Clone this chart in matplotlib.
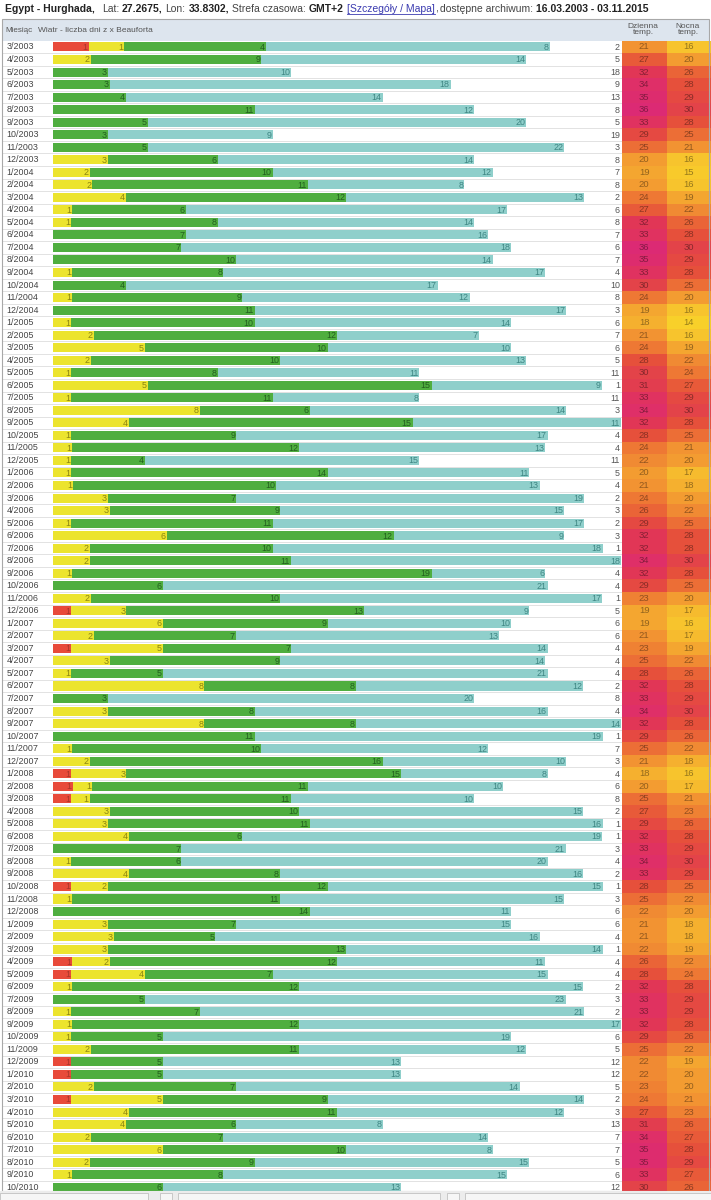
import numpy as np
import matplotlib
matplotlib.use('agg')
import matplotlib.pyplot as plt
from matplotlib.colors import LinearSegmentedColormap, to_rgb
from matplotlib.patches import Rectangle
from matplotlib.lines import Line2D

plt.rcParams['font.family'] = ['Liberation Sans', 'DejaVu Sans']

# months 3/2003 .. 10/2010
months = [f"{m}/{y}" for y in range(2003, 2011) for m in range(1, 13)][2:94]

# number of days per Beaufort class (red, yellow, green, teal, rest)
red = [1,0,0,0,0,0,0,0,0,0, 0,0,0,0,0,0,0,0,0,0,0,0,
       0,0,0,0,0,0,0,0,0,0,0,0, 0,0,0,0,0,0,0,0,0,0,0,1,
       0,0,1,0,0,0,0,0,0,0,0,0, 1,1,1,0,0,0,0,0,0,1,0,0,
       0,0,0,1,1,0,0,0,0,0,0,1, 1,0,1,0,0,0,0,0,0,0]
yellow = [1,2,0,0,0,0,0,0,0,3, 2,2,4,1,1,0,0,0,1,0,1,0,
          1,2,5,2,1,5,1,8,4,1,1,1, 1,1,3,3,1,6,2,2,1,0,2,3,
          6,2,5,3,1,8,0,3,8,0,1,2, 3,1,1,3,3,4,0,1,4,2,1,0,
          3,3,3,2,4,1,0,1,1,1,2,0, 0,2,5,4,4,2,6,2,1,0]
green = [4,9,3,3,4,11,5,3,5,6, 10,11,12,6,8,7,7,10,8,4,9,11,
         10,12,10,10,8,15,11,6,15,9,12,4, 14,10,7,9,11,12,10,11,19,6,10,13,
         9,7,7,9,5,8,3,8,8,11,10,16, 15,11,11,10,11,6,7,6,8,12,11,14,
         7,5,13,12,7,12,5,7,12,5,11,5, 5,7,9,11,6,7,10,9,8,6]
teal = [8,14,10,18,14,12,20,9,22,14, 12,8,13,17,14,16,18,14,17,17,12,17,
        14,7,10,13,11,9,8,14,11,17,13,15, 11,13,19,15,17,9,18,18,6,21,17,9,
        10,13,14,14,21,12,20,16,14,19,12,10, 8,10,10,15,16,19,21,20,16,15,15,11,
        15,16,14,11,15,15,23,21,17,19,12,13, 13,14,14,12,8,14,8,15,15,13]
rest = [2,5,18,9,13,8,5,19,3,8, 7,8,2,6,8,7,6,7,4,10,8,3,
        6,7,6,5,11,1,11,3,0,4,4,11, 5,4,2,3,2,3,1,0,4,4,1,5,
        6,6,4,4,4,2,8,4,0,1,7,3, 4,6,8,2,1,1,3,4,2,1,3,6,
        6,4,1,4,4,2,3,2,0,6,5,12, 12,5,2,3,13,7,7,5,6,12]

# mean day / night temperature
day_temp = [21,27,32,34,35,36,33,29,25,20,
            19,20,24,27,32,33,36,35,33,30,24,19,
            18,21,24,28,30,31,33,34,32,28,24,22,
            20,21,24,26,29,32,32,34,32,29,23,19,
            19,21,23,25,28,32,33,34,32,29,25,21,
            18,20,25,27,29,32,33,34,33,28,25,22,
            21,21,22,26,28,32,33,33,32,29,25,22,
            22,23,24,27,31,34,35,35,33,30]
night_temp = [16,20,26,28,29,30,28,25,21,16,
              15,16,19,22,26,28,30,29,28,25,20,16,
              14,16,19,22,24,27,29,30,28,25,21,20,
              17,18,20,22,25,28,28,30,28,25,20,17,
              16,17,19,22,26,28,29,30,28,26,22,18,
              16,17,21,23,26,28,29,30,29,25,22,20,
              18,18,19,22,24,28,29,29,28,26,22,19,
              20,20,21,23,26,27,28,29,27,26]

seg_colors = ['#e84a3a', '#ece42e', '#4fae3f', '#8fcfcb', '#ffffff']
lab_colors = ['#a8362a', '#8a8410', '#225f1e', '#3e8683', '#555555']

temp_cmap = LinearSegmentedColormap.from_list('temp', [
    (0.0, '#f8d02a'), (2/22, '#f7c42d'), (6/22, '#f39c31'), (10/22, '#ee7834'),
    (14/22, '#e6503b'), (18/22, '#e13656'), (20/22, '#df2f68'), (1.0, '#dc2a74')])

W, H = 711, 1200
fig = plt.figure(figsize=(W / 100, H / 100), dpi=100)
fig.patch.set_facecolor('white')


def px_ax(x0, y0, x1, y1):
    a = fig.add_axes([x0 / W, 1 - y1 / H, (x1 - x0) / W, (y1 - y0) / H])
    a.set_axis_off()
    return a


row0 = 40.7
pitch = 12.53
n = len(months)
ybot = (H - row0) / pitch - 0.5
rows = np.arange(n)

# row separators
ax_bg = px_ax(2, row0, 709, H)
ax_bg.set_xlim(0, 1)
ax_bg.set_ylim(ybot, -0.5)
ax_bg.hlines(rows + 0.5, 0, 1, color='#e2e2e2', lw=0.7)

# month labels
ax_lab = px_ax(2, row0, 53, H)
ax_lab.set_xlim(0, 1)
ax_lab.set_ylim(ybot, -0.5)
for i, m in enumerate(months):
    ax_lab.text(0.09, i, m, fontsize=6.4, color='#444444', va='center', ha='left')

# wind bars
ax = px_ax(53, row0, 621, H)
ax.set_xlim(0, 1)
ax.set_ylim(ybot, -0.5)
data = np.array([red, yellow, green, teal, rest], dtype=float)
totals = data.sum(axis=0)
left = np.zeros(n)
for k in range(5):
    frac = data[k] / totals
    ax.barh(rows, frac, left=left, height=0.72, color=seg_colors[k], lw=0)
    ends = left + frac
    for i in range(n):
        if data[k, i] > 0:
            ax.annotate(str(int(data[k, i])), (ends[i], i), xytext=(-0.8, -0.3),
                        textcoords='offset points', ha='right', va='center',
                        fontsize=6.4, color=lab_colors[k])
    left = ends

# temperature cells
ax_t = px_ax(622, row0, 711, H)
ax_t.set_xlim(0, 2)
ax_t.set_ylim(ybot, -0.5)
temps = np.array([day_temp, night_temp]).T
ax_t.pcolormesh(np.arange(3), np.arange(n + 1) - 0.5, temps, cmap=temp_cmap,
                vmin=14, vmax=36, edgecolors='none')
for i in range(n):
    for j in range(2):
        c = np.array(to_rgb(temp_cmap((temps[i, j] - 14) / 22))) * 0.6
        ax_t.text(j + 0.5, i, str(temps[i, j]), fontsize=6.8, color=c,
                  ha='center', va='center')

# header row
fig.patches.append(Rectangle((2 / W, 1 - row0 / H), 707 / W, (row0 - 19) / H,
                             transform=fig.transFigure, facecolor='#dde5ee',
                             edgecolor='none', zorder=-1))
fig.text(5 / W, 1 - 31 / H, 'Miesiąc', fontsize=5.8, color='#555555', va='center')
fig.text(38 / W, 1 - 31 / H, 'Wiatr - liczba dni z x Beauforta', fontsize=6.0,
         color='#555555', va='center')
fig.text(643 / W, 1 - 29.5 / H, 'Dzienna\ntemp.', fontsize=6.0, color='#555555',
         va='center', ha='center', linespacing=1.0)
fig.text(688 / W, 1 - 29.5 / H, 'Nocna\ntemp.', fontsize=6.0, color='#555555',
         va='center', ha='center', linespacing=1.0)

# table frame and footer strip
fig.patches.append(Rectangle((0, 0), 1, 9 / H, transform=fig.transFigure,
                             facecolor='#ececec', edgecolor='none', zorder=5))
for x0, x1 in [(0, 148), (160, 172), (178, 440), (447, 459), (465, 711)]:
    fig.patches.append(Rectangle((x0 / W, 0.5 / H), (x1 - x0) / W, 7 / H,
                                 transform=fig.transFigure, facecolor='#f6f6f6',
                                 edgecolor='#c0c0c0', lw=0.6, zorder=6))
fig.patches.append(Rectangle((2 / W, 9 / H), 707 / W, (H - 19 - 9) / H,
                             transform=fig.transFigure, fill=False,
                             edgecolor='#a8a8a8', lw=0.8, zorder=4))

# title line with mixed weights
title_parts = [
    ('Egypt - Hurghada,', 'bold', '#222222', 7),
    ('Lat:', 'normal', '#444444', 3),
    ('27.2675,', 'bold', '#222222', 3),
    ('Lon:', 'normal', '#444444', 3),
    ('33.8302,', 'bold', '#222222', 3),
    ('Strefa czasowa:', 'normal', '#444444', 3),
    ('GMT+2', 'bold', '#222222', 3),
    ('[Szczegóły / Mapa],', 'link', '#3b3bb0', 3),
    ('dostępne archiwum:', 'normal', '#444444', 3),
    ('16.03.2003 - 03.11.2015', 'bold', '#222222', 0),
]
tfs = 7.45
fig.canvas.draw()
r = fig.canvas.get_renderer()
x = 5
ty = 8.5
for txt, style, col, gap in title_parts:
    if style == 'link':
        t = fig.text(x / W, 1 - ty / H, txt[:-1], fontsize=tfs, color=col, va='center')
        bb = t.get_window_extent(renderer=r)
        fig.lines.append(Line2D([bb.x0 / W, bb.x1 / W], [1 - 13.5 / H, 1 - 13.5 / H],
                                transform=fig.transFigure, color=col, lw=0.6))
        t2 = fig.text(bb.x1 / W, 1 - ty / H, ',', fontsize=tfs, color='#444444', va='center')
        bb = t2.get_window_extent(renderer=r)
    else:
        t = fig.text(x / W, 1 - ty / H, txt, fontsize=tfs, color=col, va='center',
                     fontweight='bold' if style == 'bold' else 'normal')
        bb = t.get_window_extent(renderer=r)
    x = bb.x1 + gap

plt.savefig('out.png', dpi=100)
